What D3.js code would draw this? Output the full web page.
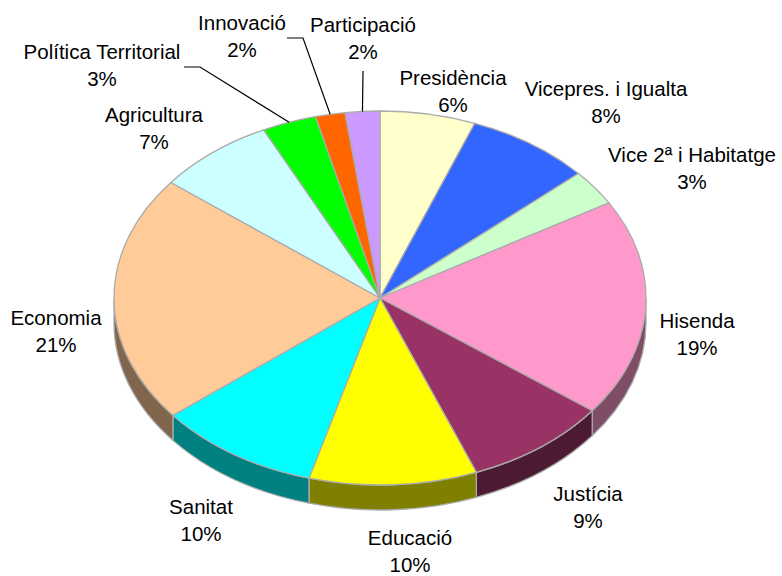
<!DOCTYPE html>
<html>
<head>
<meta charset="utf-8">
<script src="https://cdn.jsdelivr.net/npm/d3@7"></script>
<style>
  html, body { margin: 0; padding: 0; background: #fff; }
  svg { display: block; }
  text { font-family: "Liberation Sans", Arial, sans-serif; font-size: 20.5px; fill: #000; }
</style>
</head>
<body>
<svg id="chart" width="782" height="576"></svg>
<script>
// ---- data ----
const categories = ["Presidència", "Vicepres. i Igualta", "Vice 2ª i Habitatge", "Hisenda", "Justícia",
  "Educació", "Sanitat", "Economia", "Agricultura", "Política Territorial", "Innovació", "Participació"];
const values = [5.8, 7.6, 3.1, 18.8, 8.8, 10.2, 9.9, 21.4, 7.2, 3.3, 1.8, 2.1];
const colors = ["#FFFFCC", "#3366FF", "#CCFFCC", "#FF99CC", "#993366", "#FFFF00",
  "#00FFFF", "#FFCC99", "#CCFFFF", "#00FF00", "#FF6600", "#CC99FF"];

// ---- layout (label placement, first-line centre) ----
const labelAt = [[453, 78], [606, 89], [692, 155], [697, 321], [588, 494], [410, 538],
  [201, 507], [56, 318], [154, 115], [102, 52], [242, 23], [363, 25]];
// leader lines start (label side) for labels that were moved away from the pie
const leaders = { 9: [[184, 67], [200, 67]], 10: [[287, 38], [303, 38]], 11: [[363, 71]] };

const cx = 380, cy = 298, rx = 266, ry = 187, depth = 25;
const k = ry / rx, dz = depth / k;
const edge = "#ABABAB";

const svg = d3.select("#chart");
const pie = d3.pie().sort(null).value(d => d).startAngle(0).endAngle(2 * Math.PI);
const arcs = pie(values);
const total = d3.sum(values);

const g = svg.append("g").attr("transform", `translate(${cx},${cy}) scale(1,${k})`);

// side walls (front half only: angles between PI/2 and 3PI/2)
const sides = g.append("g");
arcs.forEach((a, i) => {
  const a0 = Math.max(a.startAngle, Math.PI / 2);
  const a1 = Math.min(a.endAngle, 3 * Math.PI / 2);
  if (a1 <= a0) return;
  const p = d3.path();
  p.moveTo(rx * Math.sin(a0), -rx * Math.cos(a0));
  p.arc(0, 0, rx, a0 - Math.PI / 2, a1 - Math.PI / 2, false);
  p.lineTo(rx * Math.sin(a1), -rx * Math.cos(a1) + dz);
  p.arc(0, dz, rx, a1 - Math.PI / 2, a0 - Math.PI / 2, true);
  p.closePath();
  const c = d3.rgb(colors[i]);
  sides.append("path")
    .attr("d", p.toString())
    .attr("fill", d3.rgb(c.r / 2, c.g / 2, c.b / 2))
    .attr("stroke", edge)
    .attr("stroke-width", 1.3)
    .attr("vector-effect", "non-scaling-stroke");
});

// top faces
const arcGen = d3.arc().innerRadius(0).outerRadius(rx);
g.append("g").selectAll("path")
  .data(arcs)
  .join("path")
  .attr("d", arcGen)
  .attr("fill", (d, i) => colors[i])
  .attr("stroke", edge)
  .attr("stroke-width", 1.3)
  .attr("stroke-linejoin", "round")
  .attr("vector-effect", "non-scaling-stroke");

// leader lines
Object.keys(leaders).forEach(key => {
  const i = +key;
  const m = (arcs[i].startAngle + arcs[i].endAngle) / 2;
  const end = [cx + rx * Math.sin(m), cy - ry * Math.cos(m)];
  const pts = leaders[key].concat([end]);
  svg.append("path")
    .attr("d", d3.line()(pts))
    .attr("fill", "none")
    .attr("stroke", "#000")
    .attr("stroke-width", 1.2);
});

// labels
const labels = svg.append("g");
categories.forEach((name, i) => {
  const [x, y] = labelAt[i];
  const t = labels.append("text").attr("text-anchor", "middle");
  t.append("tspan").attr("x", x).attr("y", y).attr("dy", "0.35em").text(name);
  t.append("tspan").attr("x", x).attr("y", y + 27).attr("dy", "0.35em")
    .text(Math.round(values[i] / total * 100) + "%");
});
</script>
</body>
</html>
